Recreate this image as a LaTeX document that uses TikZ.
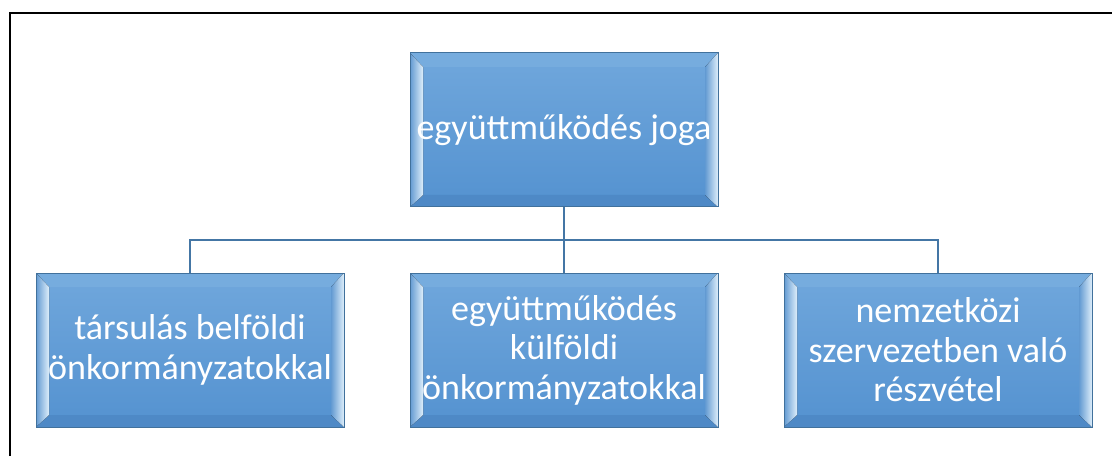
\documentclass[tikz,border=0pt]{standalone}
\usepackage{fontspec}
\setmainfont{Carlito}
\usetikzlibrary{calc}
\definecolor{boxtop}{RGB}{112,167,220}
\definecolor{boxbot}{RGB}{84,146,208}
\definecolor{boxborder}{RGB}{65,113,156}
\definecolor{connc}{RGB}{68,118,165}
\definecolor{bevtop}{RGB}{118,172,222}
\definecolor{bevbot}{RGB}{78,137,198}
\definecolor{bevdark}{RGB}{98,154,210}
\definecolor{bevlight}{RGB}{222,238,250}
\begin{document}
\begin{tikzpicture}[x=1pt,y=1pt,
  bevelbox/.style={minimum width=308pt, minimum height=154pt, inner sep=0pt,
    draw=boxborder, line width=1pt, top color=boxtop, bottom color=boxbot,
    text=white, align=center, font=\fontsize{36}{39.5}\selectfont,
    path picture={
      \coordinate (pNW) at (path picture bounding box.north west);
      \coordinate (pNE) at (path picture bounding box.north east);
      \coordinate (pSW) at (path picture bounding box.south west);
      \coordinate (pSE) at (path picture bounding box.south east);
      \coordinate (iNW) at ($(pNW)+(13,-14)$);
      \coordinate (iNE) at ($(pNE)+(-13,-14)$);
      \coordinate (iSW) at ($(pSW)+(13,12)$);
      \coordinate (iSE) at ($(pSE)+(-13,12)$);
      \fill[bevtop] (pNW) -- (pNE) -- (iNE) -- (iNW) -- cycle;
      \fill[bevbot] (pSW) -- (pSE) -- (iSE) -- (iSW) -- cycle;
      \fill[left color=bevdark, right color=bevlight] (pNW) -- (iNW) -- (iSW) -- (pSW) -- cycle;
      \fill[left color=bevdark, right color=bevlight] (pNE) -- (iNE) -- (iSE) -- (pSE) -- cycle;
    }},
  conn/.style={draw=connc, line width=2pt}]
\useasboundingbox (0,0) rectangle (1112,456);
\draw[black, line width=2.2pt] (10,0) -- (10,443) -- (1112,443);
\node[bevelbox] (nTop) at (564,326) {együttműködés joga};
\node[bevelbox] (nL) at (190,106) {társulás belföldi\\önkormányzatokkal};
\node[bevelbox] (nM) at (564,106) {együttműködés\\külföldi\\önkormányzatokkal};
\node[bevelbox] (nR) at (938,106) {nemzetközi\\szervezetben való\\részvétel};
\coordinate (bar) at (564,216);
\draw[conn] (nTop.south) -- (bar);
\draw[conn] (nL.north) |- (bar) -| (nR.north);
\draw[conn] (nM.north) -- (bar);
\end{tikzpicture}
\end{document}
